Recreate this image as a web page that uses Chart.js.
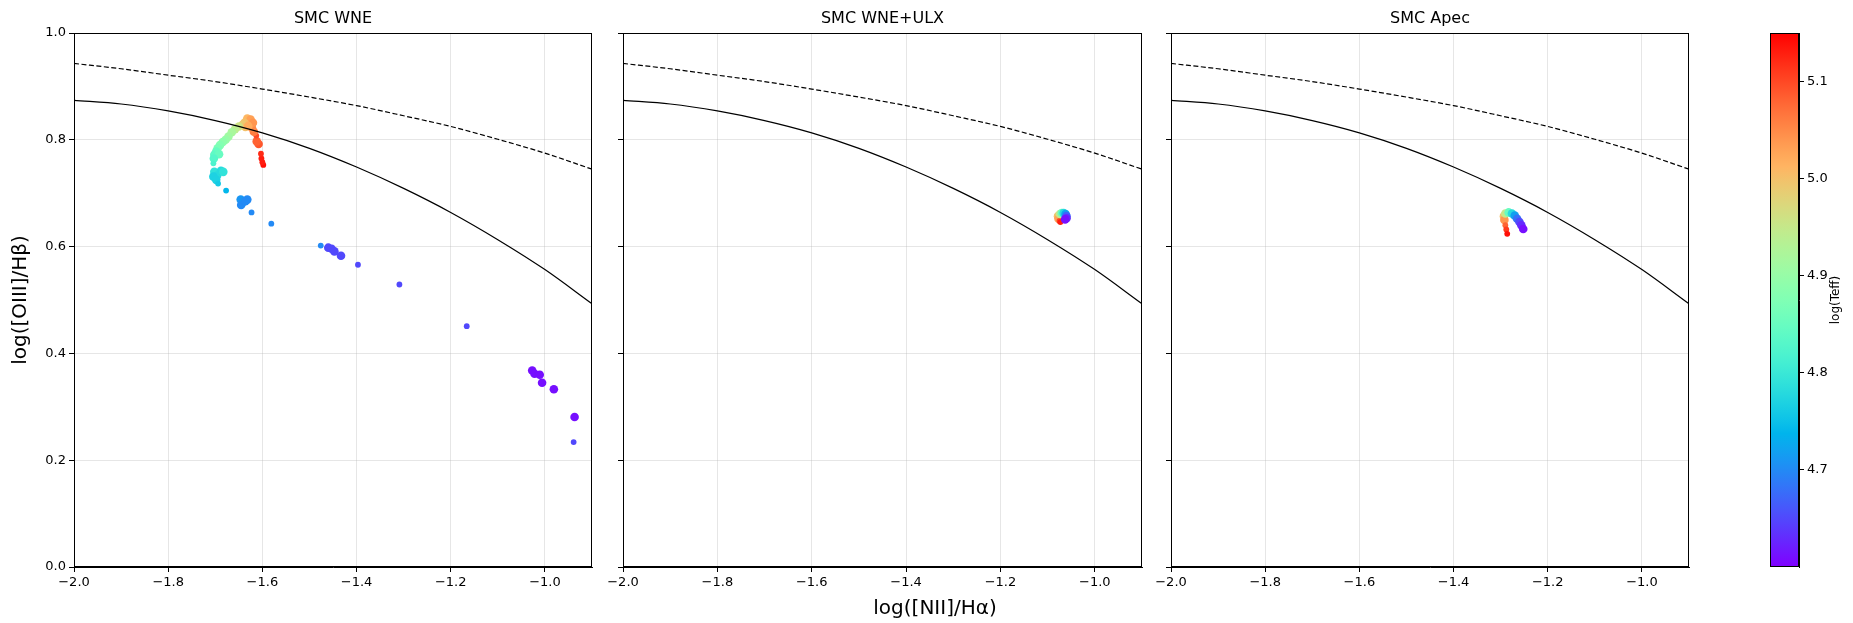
<!DOCTYPE html>
<html><head><meta charset="utf-8">
<script src="https://cdn.jsdelivr.net/npm/chart.js@4.4.1/dist/chart.umd.min.js"></script>
<style>
html,body{margin:0;padding:0;background:#fff;}
body{width:1853px;height:623px;position:relative;overflow:hidden;}
canvas{position:absolute;top:0;}
</style></head><body>
<canvas id="p1" width="600" height="623" style="left:0px"></canvas>
<canvas id="p2" width="550" height="623" style="left:600px"></canvas>
<canvas id="p3" width="550" height="623" style="left:1150px"></canvas>
<canvas id="cb" width="153" height="623" style="left:1700px"></canvas>
<script>
// ---------- data ----------
const xTicks = [-2.0, -1.8, -1.6, -1.4, -1.2, -1.0];
const yTicks = [0.0, 0.2, 0.4, 0.6, 0.8, 1.0];
const cbTicks = [4.7, 4.8, 4.9, 5.0, 5.1];
const xMin = -2.0, xMax = -0.9, yMin = 0.0, yMax = 1.0;
const teffMin = 4.60, teffMax = 5.15;
const panelTitles = ['SMC WNE', 'SMC WNE+ULX', 'SMC Apec'];
const xLabel = 'log([NII]/H\u03b1)';
const yLabel = 'log([OIII]/H\u03b2)';
const cbLabel = 'log(Teff)';

// demarcation curves
const demarcX    = [-2.0, -1.9, -1.8, -1.7, -1.6, -1.5, -1.4, -1.3, -1.2, -1.1, -1.0, -0.9];
const kewleyY    = [0.943, 0.933, 0.921, 0.909, 0.895, 0.880, 0.864, 0.845, 0.825, 0.801, 0.775, 0.745];
const stasinskaY = [0.874, 0.867, 0.854, 0.836, 0.813, 0.784, 0.749, 0.709, 0.664, 0.613, 0.557, 0.493];

// SMC WNE
const wneX = [-1.598,-1.600,-1.602,-1.603,-1.608,-1.612,-1.613,-1.618,-1.622,
  -1.625,-1.628,-1.632,-1.625,-1.620,-1.638,-1.642,-1.636,-1.630,
  -1.650,-1.658,-1.665,-1.672,-1.678,-1.684,-1.690,-1.695,
  -1.698,-1.702,-1.692,-1.703,-1.704,
  -1.702,-1.696,-1.688,-1.683,-1.704,-1.698,-1.694,-1.677,
  -1.646,-1.640,-1.632,-1.645,-1.636,-1.623,-1.581,
  -1.476,-1.460,-1.453,-1.447,-1.433,-1.397,-1.309,-1.166,
  -1.027,-1.022,-1.011,-1.006,-0.981,-0.937,-0.939];
const wneY = [0.753,0.758,0.765,0.774,0.792,0.797,0.808,0.815,0.822,
  0.830,0.836,0.840,0.838,0.832,0.832,0.828,0.824,0.826,
  0.825,0.820,0.814,0.806,0.800,0.796,0.790,0.784,
  0.778,0.772,0.773,0.765,0.756,
  0.740,0.733,0.742,0.740,0.731,0.725,0.718,0.705,
  0.688,0.684,0.688,0.678,0.685,0.664,0.643,
  0.602,0.598,0.596,0.591,0.583,0.566,0.529,0.451,
  0.368,0.362,0.360,0.345,0.333,0.281,0.234];
const wneTeff = [5.14,5.13,5.13,5.12,5.09,5.08,5.10,5.06,5.05,
  5.03,5.02,5.01,5.03,5.04,5.00,4.99,5.00,5.02,
  4.96,4.94,4.92,4.91,4.90,4.89,4.88,4.87,
  4.85,4.84,4.85,4.83,4.82,
  4.79,4.78,4.78,4.79,4.77,4.77,4.76,4.74,
  4.71,4.71,4.70,4.70,4.70,4.70,4.70,
  4.70,4.65,4.65,4.65,4.65,4.65,4.65,4.65,
  4.61,4.61,4.61,4.61,4.61,4.61,4.65];
const wneSizeClass = [0,0,0,0,1,1,0,1,1, 1,1,1,1,1,1,1,1,1, 1,1,1,1,1,1,1,1, 1,1,1,1,0,
  1,1,1,1,1,1,0,0, 1,1,1,1,1,0,0, 0,1,1,1,1,0,0,0, 1,1,1,1,1,1,0];

// SMC WNE+ULX
const ulxX = [-1.078,-1.077,-1.075,-1.073,-1.074,-1.070,-1.066,-1.062,-1.060,-1.060,-1.063];
const ulxY = [0.657,0.652,0.648,0.646,0.661,0.663,0.663,0.661,0.657,0.653,0.651];
const ulxTeff = [5.00,5.03,5.10,5.13,4.95,4.85,4.78,4.72,4.67,4.63,4.61];
const ulxSizeClass = [1,1,0,0,1,1,1,1,1,1,1];

// SMC Apec
const apecX = [-1.293,-1.292,-1.290,-1.288,-1.286,-1.290,-1.283,-1.276,-1.270,-1.265,-1.260,-1.256,-1.252];
const apecY = [0.657,0.650,0.640,0.632,0.624,0.662,0.664,0.662,0.658,0.652,0.646,0.640,0.633];
const apecTeff = [5.00,5.04,5.08,5.11,5.14,4.95,4.85,4.78,4.72,4.68,4.65,4.63,4.61];
const apecSizeClass = [1,1,0,0,0,1,1,1,1,1,1,1,1];

// ---------- helpers ----------
const FONT = 'DejaVu Sans';
function rainbow(v) {
  const t = Math.min(1, Math.max(0, (v - teffMin) / (teffMax - teffMin)));
  const r = Math.min(1, Math.abs(2 * t - 0.5));
  const g = Math.sin(Math.PI * t);
  const b = Math.cos(Math.PI * t / 2);
  return 'rgb(' + Math.round(r * 255) + ',' + Math.round(g * 255) + ',' + Math.round(b * 255) + ')';
}
function fmt(v) { const s = Number(v).toFixed(1); return s.replace('-', '\u2212'); }

const framePlugin = {
  id: 'frame',
  afterDraw(c) {
    const a = c.chartArea, ctx = c.ctx;
    ctx.save();
    ctx.strokeStyle = '#000'; ctx.lineWidth = 1;
    ctx.strokeRect(Math.round(a.left) + 0.5, Math.round(a.top) + 0.5,
      Math.round(a.right - a.left) - 1, Math.round(a.bottom - a.top) - 1);
    ctx.restore();
  }
};

const supLabelPlugin = {
  id: 'supLabel',
  afterDraw(c, args, opts) {
    if (!opts || !opts.text) return;
    const ctx = c.ctx;
    ctx.save();
    ctx.fillStyle = '#000';
    ctx.font = opts.size + 'px "' + FONT + '"';
    ctx.textAlign = 'center'; ctx.textBaseline = 'middle';
    ctx.translate(opts.x, opts.y);
    if (opts.rotate) ctx.rotate(-Math.PI / 2);
    ctx.fillText(opts.text, 0, 0);
    ctx.restore();
  }
};

const gridColor = 'rgba(176,176,176,0.32)';

function makePanel(id, idx, xs, ys, teff, sizeClass, yAxisWidth, padRight, showYLabels, supLabel) {
  const pts = xs.map((x, i) => ({ x: x, y: ys[i] }));
  return new Chart(document.getElementById(id), {
    type: 'scatter',
    data: {
      datasets: [
        { type: 'line', data: demarcX.map((x, i) => ({ x: x, y: kewleyY[i] })),
          borderColor: '#000', borderWidth: 1.2, borderDash: [5, 2.5], pointRadius: 0,
          cubicInterpolationMode: 'monotone', fill: false },
        { type: 'line', data: demarcX.map((x, i) => ({ x: x, y: stasinskaY[i] })),
          borderColor: '#000', borderWidth: 1.2, pointRadius: 0,
          cubicInterpolationMode: 'monotone', fill: false },
        { data: pts, pointBackgroundColor: teff.map(rainbow), pointBorderWidth: 0,
          pointBorderColor: 'rgba(0,0,0,0)',
          pointRadius: sizeClass.map(s => s ? 4.3 : 2.9) }
      ]
    },
    options: {
      responsive: false, animation: false, devicePixelRatio: 1,
      layout: { padding: { left: 0, right: padRight, top: 0, bottom: 0 } },
      plugins: {
        legend: { display: false }, tooltip: { enabled: false },
        supLabel: supLabel || {}
      },
      scales: {
        x: {
          type: 'linear', min: xMin, max: xMax,
          afterBuildTicks: s => { s.ticks = xTicks.map(v => ({ value: v })); },
          afterFit: s => { s.height = 56; },
          ticks: { callback: fmt, color: '#000', font: { family: FONT, size: 13 }, padding: 3,
            maxRotation: 0, autoSkip: false },
          grid: { color: gridColor, tickColor: '#000', tickLength: 5, lineWidth: 1 },
          border: { color: '#000', width: 1 }
        },
        xTop: {
          type: 'linear', position: 'top', min: xMin, max: xMax,
          afterFit: s => { s.height = 33; },
          ticks: { display: false },
          grid: { display: false, drawTicks: false },
          border: { display: false },
          title: { display: true, text: panelTitles[idx], color: '#000',
            font: { family: FONT, size: 16, weight: 'normal', lineHeight: 1.2 },
            padding: { top: 9, bottom: 0 } }
        },
        y: {
          type: 'linear', min: yMin, max: yMax,
          afterBuildTicks: s => { s.ticks = yTicks.map(v => ({ value: v })); },
          afterFit: s => { s.width = yAxisWidth; },
          ticks: { display: showYLabels, callback: fmt, color: '#000', font: { family: FONT, size: 13 },
            padding: 3, autoSkip: false },
          grid: { color: gridColor, tickColor: '#000', tickLength: 5, lineWidth: 1 },
          border: { color: '#000', width: 1 },
          title: { display: showYLabels, text: yLabel, color: '#000',
            font: { family: FONT, size: 20, weight: 'normal', lineHeight: 1.2 },
            padding: { top: 9, bottom: 0 } }
        }
      }
    },
    plugins: [framePlugin, supLabelPlugin]
  });
}

makePanel('p1', 0, wneX, wneY, wneTeff, wneSizeClass, 74, 8, true);
makePanel('p2', 1, ulxX, ulxY, ulxTeff, ulxSizeClass, 23, 8, false,
  { text: xLabel, x: 335, y: 609, size: 20 });
makePanel('p3', 2, apecX, apecY, apecTeff, apecSizeClass, 21, 11, false);

// ---------- colorbar ----------
const gradientPlugin = {
  id: 'cbGradient',
  beforeDatasetsDraw(c) {
    const a = c.chartArea, ctx = c.ctx;
    const g = ctx.createLinearGradient(0, a.bottom, 0, a.top);
    const n = 40;
    for (let i = 0; i <= n; i++) {
      g.addColorStop(i / n, rainbow(teffMin + (teffMax - teffMin) * i / n));
    }
    ctx.save();
    ctx.fillStyle = g;
    ctx.fillRect(a.left, a.top, a.right - a.left, a.bottom - a.top);
    ctx.restore();
  }
};
new Chart(document.getElementById('cb'), {
  type: 'scatter',
  data: { datasets: [{ data: [] }] },
  options: {
    responsive: false, animation: false, devicePixelRatio: 1,
    layout: { padding: { left: 70, right: 0, top: 33, bottom: 56 } },
    plugins: { legend: { display: false }, tooltip: { enabled: false },
      supLabel: { text: cbLabel, x: 136, y: 300, size: 12, rotate: true } },
    scales: {
      x: { display: false, min: 0, max: 1 },
      y: {
        position: 'right', min: teffMin, max: teffMax,
        afterBuildTicks: s => { s.ticks = cbTicks.map(v => ({ value: v })); },
        afterFit: s => { s.width = 54; },
        ticks: { callback: v => Number(v).toFixed(1), color: '#000', font: { family: FONT, size: 13 }, padding: 3 },
        grid: { drawOnChartArea: false, tickColor: '#000', tickLength: 5 },
        border: { color: '#000', width: 1 }
      }
    }
  },
  plugins: [gradientPlugin, framePlugin, supLabelPlugin]
});
</script>
</body></html>
